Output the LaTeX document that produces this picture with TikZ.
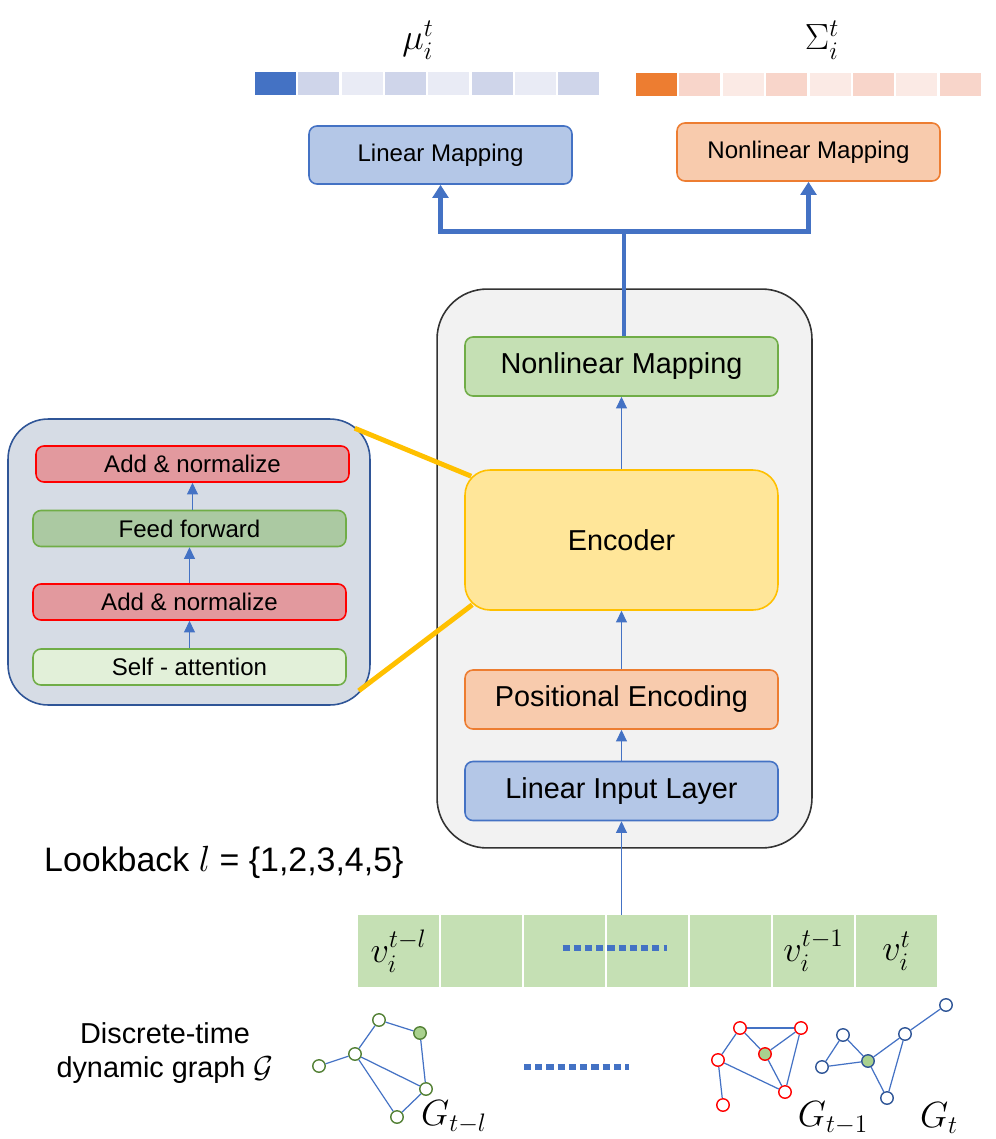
\documentclass[tikz,border=0pt]{standalone}
\usepackage{fontspec}
\setmainfont{Liberation Sans}
\usepackage{amsmath}
\usepackage{amssymb}
\usetikzlibrary{arrows.meta, positioning, calc}

\definecolor{mublue}{HTML}{4472C4}
\definecolor{mublueA}{HTML}{CFD5EA}
\definecolor{mublueB}{HTML}{E9EBF5}
\definecolor{sgorange}{HTML}{ED7D31}
\definecolor{sgorangeA}{HTML}{F8D5CA}
\definecolor{sgorangeB}{HTML}{FBEAE5}
\definecolor{boxblue}{HTML}{B4C7E7}
\definecolor{boxorange}{HTML}{F8CBAD}
\definecolor{boxgreen}{HTML}{C5E0B4}
\definecolor{edgegreen}{HTML}{70AD47}
\definecolor{encfill}{HTML}{FFE699}
\definecolor{encedge}{HTML}{FFC000}
\definecolor{bodyfill}{HTML}{F2F2F2}
\definecolor{detailfill}{HTML}{D6DCE5}
\definecolor{detailedge}{HTML}{2F5597}
\definecolor{addfill}{HTML}{E2999E}
\definecolor{fffill}{HTML}{ABC9A2}
\definecolor{safill}{HTML}{E2F0D9}
\definecolor{nodegreen}{HTML}{538135}
\definecolor{nodefill}{HTML}{A9D18E}

\tikzset{
  box/.style={draw, rounded corners=4.5pt, line width=0.9pt, minimum width=6.26cm,
    minimum height=1.18cm, inner sep=0pt, font=\fontsize{16.4}{19}\selectfont},
  topbox/.style={box, minimum width=5.26cm, minimum height=1.16cm, font=\fontsize{13.7}{16}\selectfont},
  subbox/.style={box, minimum height=0.72cm, font=\fontsize{13.7}{16}\selectfont},
  barcell/.style={minimum width=0.82cm, minimum height=0.46cm, inner sep=0pt},
  seqcell/.style={fill=boxgreen, minimum width=1.62cm, minimum height=1.44cm, inner sep=0pt,
    font=\fontsize{22}{26}\selectfont},
  arr/.style={draw=mublue, line width=0.6pt, -{Triangle[width=6.2pt,length=6.6pt]}},
  bigline/.style={draw=mublue, line width=2.8pt},
  bigarr/.style={bigline, -{Triangle[width=9pt,length=7.5pt]}},
  zoomline/.style={draw=encedge, line width=2.8pt},
  gnode/.style={circle, draw, fill=white, line width=0.8pt, minimum size=0.25cm, inner sep=0pt},
  gedge/.style={draw=mublue, line width=0.7pt},
  dots/.style={draw=mublue, line width=3pt, dash pattern=on 4pt off 2.4pt},
  glab/.style={font=\fontsize{20}{24}\selectfont},
  veclab/.style={font=\fontsize{21}{25}\selectfont}
}

\begin{document}
\begin{tikzpicture}[x=0.02cm, y=-0.02cm]
  \useasboundingbox (0,0) rectangle (995,1139);

  \node[barcell, fill=mublue] (mu0) at (275.5,83.5) {};
  \node[barcell, fill=sgorange] (sg0) at (656.5,84.5) {};
  \foreach \i in {1,...,7}{
    \pgfmathtruncatemacro{\odd}{mod(\i,2)}
    \ifnum\odd=1
      \node[barcell, fill=mublueA] (mu\i) at (275.5+43.3*\i,83.5) {};
      \node[barcell, fill=sgorangeA] (sg\i) at (656.5+43.4*\i,84.5) {};
    \else
      \node[barcell, fill=mublueB] (mu\i) at (275.5+43.3*\i,83.5) {};
      \node[barcell, fill=sgorangeB] (sg\i) at (656.5+43.4*\i,84.5) {};
    \fi
  }
  \node[veclab] (mulab) at (418,40) {$\mu_i^t$};
  \node[veclab] (sglab) at (822,40) {$\Sigma_i^t$};

  \node[topbox, fill=boxblue, draw=mublue] (linmap) at (440.5,155) {Linear Mapping};
  \node[topbox, fill=boxorange, draw=sgorange] (nlmap) at (808.5,152) {Nonlinear Mapping};

  \node[draw=black!80, fill=bodyfill, line width=0.9pt, rounded corners=1cm,
    minimum width=7.5cm, minimum height=11.18cm] (body) at (624.5,568.5) {};

  \node[box, fill=boxgreen, draw=edgegreen] (nlin) at (621.5,366.5) {Nonlinear Mapping};
  \node[box, fill=encfill, draw=encedge, rounded corners=0.5cm, minimum height=2.8cm] (enc) at (621.5,540) {Encoder};
  \node[box, fill=boxorange, draw=sgorange] (pos) at (621.5,699.5) {Positional Encoding};
  \node[box, fill=boxblue, draw=mublue] (lin) at (621.5,791) {Linear Input Layer};

  \draw[arr] (lin.north) -- (pos.south);
  \draw[arr] (pos.north) -- (enc.south);
  \draw[arr] (enc.north) -- (nlin.south);

  \coordinate (split) at ($(nlin.north)+(2.5,-105)$);
  \draw[bigline] (split |- nlin.north) -- (split);
  \draw[bigarr] (split) -| (linmap.south);
  \draw[bigarr] (split) -| (nlmap.south);

  \node[draw=detailedge, fill=detailfill, line width=0.9pt, rounded corners=0.8cm,
    minimum width=7.24cm, minimum height=5.72cm] (detail) at (189,562) {};
  \node[subbox, fill=addfill, draw=red] (add2) at (192.5,464) {Add \& normalize};
  \node[subbox, fill=fffill, draw=edgegreen] (ff) at (189.5,528.5) {Feed forward};
  \node[subbox, fill=addfill, draw=red] (add1) at (189.5,602) {Add \& normalize};
  \node[subbox, fill=safill, draw=edgegreen] (sa) at (189.5,667) {Self - attention};
  \draw[arr] (sa.north) -- (add1.south);
  \draw[arr] (add1.north) -- (ff.south);
  \draw[arr] (ff.north -| add2.south) -- (add2.south);

  \draw[zoomline] ($(detail.north east)+(-16,10)$) -- ($(enc.north west)+(7,7)$);
  \draw[zoomline] ($(detail.south east)+(-12,-15)$) -- ($(enc.south west)+(8,-6)$);

  \node[anchor=west, font=\fontsize{19.3}{23}\selectfont] (look) at (38,862)
    {Lookback $l$ = \{1,2,3,4,5\}};

  \foreach \i/\lab in {0/{$v_i^{t-l}$},1/{},2/{},3/{},4/{},5/{$v_i^{t-1}$},6/{$v_i^t$}}{
    \node[seqcell] (c\i) at (398.5+83*\i,951) {\lab};
  }
  \draw[dots] ($(c2.center)+(-2,-3)$) -- ($(c3.center)+(19,-3)$);
  \draw[arr] (lin.south |- c3.north) -- (lin.south);

  \node[align=center, font=\fontsize{16.4}{19.3}\selectfont] (dtdg) at (165,1053)
    {Discrete-time\\dynamic graph $\mathcal{G}$};

  \node[gnode, draw=nodegreen] (a1) at (319,1066) {};
  \node[gnode, draw=nodegreen] (a2) at (355,1054) {};
  \node[gnode, draw=nodegreen] (a3) at (379,1020) {};
  \node[gnode, draw=nodegreen, fill=nodefill] (a4) at (420,1033) {};
  \node[gnode, draw=nodegreen] (a5) at (426,1089) {};
  \node[gnode, draw=nodegreen] (a6) at (397,1117) {};
  \foreach \u/\v in {a1/a2,a2/a3,a3/a4,a4/a5,a2/a5,a2/a6,a6/a5}
    \draw[gedge] (\u) -- (\v);
  \node[glab] (gl) at (454,1117) {$G_{t-l}$};

  \draw[dots] (524,1067) -- (629,1067);

  \node[gnode, draw=red] (b1) at (740,1028) {};
  \node[gnode, draw=red] (b2) at (801,1028) {};
  \node[gnode, draw=red, fill=nodefill] (b3) at (765,1054) {};
  \node[gnode, draw=red] (b4) at (718,1060) {};
  \node[gnode, draw=red] (b5) at (785,1092) {};
  \node[gnode, draw=red] (b6) at (723,1105) {};
  \foreach \u/\v in {b1/b2,b1/b4,b1/b3,b2/b3,b2/b5,b3/b5,b4/b5,b4/b6}
    \draw[gedge] (\u) -- (\v);
  \node[glab] (gm) at (833,1118) {$G_{t-1}$};

  \node[gnode, draw=detailedge] (d1) at (822,1067) {};
  \node[gnode, draw=detailedge] (d2) at (843,1035) {};
  \node[gnode, draw=detailedge, fill=nodefill] (d3) at (868,1061) {};
  \node[gnode, draw=detailedge] (d4) at (905,1034) {};
  \node[gnode, draw=detailedge] (d5) at (946,1005) {};
  \node[gnode, draw=detailedge] (d6) at (887,1098) {};
  \foreach \u/\v in {d1/d2,d2/d3,d1/d3,d3/d4,d4/d5,d4/d6,d3/d6}
    \draw[gedge] (\u) -- (\v);
  \node[glab] (gt) at (939,1118) {$G_t$};
\end{tikzpicture}
\end{document}
